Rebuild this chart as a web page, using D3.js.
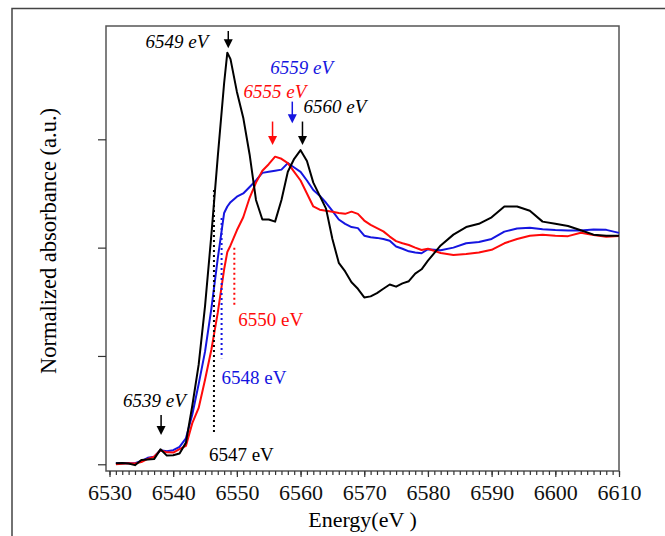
<!DOCTYPE html>
<html>
<head>
<meta charset="utf-8">
<script src="https://cdn.jsdelivr.net/npm/d3@7"></script>
<style>
  body { margin: 0; background: #fff; }
  text { font-family: "Liberation Serif", "Times New Roman", serif; }
</style>
</head>
<body>
<svg width="665" height="536"></svg>
<script>
// energy grid (eV)
var energy = [6531, 6532, 6533, 6534, 6535, 6536, 6537, 6538, 6539, 6540,
  6541, 6542, 6543, 6544, 6545, 6546, 6547, 6548, 6548.5, 6549, 6550,
  6551, 6552, 6553, 6554, 6555, 6556, 6557, 6558, 6559, 6560,
  6561, 6562, 6563, 6564, 6565, 6566, 6567, 6568, 6569, 6570,
  6571, 6572, 6573, 6574, 6575, 6576, 6577, 6578, 6579, 6580,
  6582, 6584, 6586, 6588, 6590, 6592, 6594, 6596, 6598, 6600,
  6602, 6604, 6606, 6608, 6610];

var blackVals = [0.005, 0.006, 0.004, -0.004, 0.02, 0.022, 0.024, 0.069, 0.04, 0.042,
  0.05, 0.10, 0.27, 0.46, 0.73, 1.06, 1.42, 1.76, 1.90, 1.87, 1.72,
  1.60, 1.43, 1.22, 1.13, 1.13, 1.12, 1.22, 1.35, 1.41, 1.45,
  1.40, 1.30, 1.24, 1.18, 1.04, 0.93, 0.89, 0.84, 0.81, 0.77,
  0.775, 0.79, 0.81, 0.83, 0.82, 0.835, 0.845, 0.88, 0.90, 0.94,
  1.01, 1.06, 1.095, 1.11, 1.14, 1.19, 1.19, 1.17, 1.12, 1.11,
  1.10, 1.08, 1.06, 1.055, 1.055];

var blueVals = [0.005, 0.006, 0.005, 0.005, 0.015, 0.03, 0.035, 0.065, 0.06, 0.065,
  0.08, 0.12, 0.23, 0.37, 0.52, 0.72, 0.95, 1.16, 1.19, 1.21, 1.235,
  1.25, 1.28, 1.31, 1.345, 1.35, 1.355, 1.36, 1.39, 1.37, 1.35,
  1.31, 1.266, 1.24, 1.207, 1.17, 1.13, 1.11, 1.095, 1.09, 1.055,
  1.048, 1.045, 1.04, 1.032, 1.005, 0.995, 0.983, 0.978, 0.974, 0.993,
  0.988, 1.00, 1.02, 1.026, 1.04, 1.074, 1.088, 1.092, 1.085, 1.081,
  1.079, 1.079, 1.084, 1.082, 1.068];

var redVals = [0.0, 0.003, 0.005, 0.004, 0.01, 0.025, 0.035, 0.065, 0.055, 0.054,
  0.07, 0.085, 0.19, 0.26, 0.39, 0.53, 0.70, 0.90, 0.98, 1.01, 1.08,
  1.14, 1.23, 1.30, 1.355, 1.385, 1.42, 1.41, 1.39, 1.35, 1.31,
  1.25, 1.19, 1.175, 1.17, 1.166, 1.16, 1.156, 1.166, 1.156, 1.125,
  1.105, 1.09, 1.075, 1.051, 1.03, 1.02, 1.012, 1.0, 0.989, 0.995,
  0.975, 0.966, 0.971, 0.978, 0.99, 1.02, 1.04, 1.055, 1.059, 1.055,
  1.053, 1.069, 1.058, 1.05, 1.054];

var xMajor = [6530, 6540, 6550, 6560, 6570, 6580, 6590, 6600, 6610];
var yTicks = [0, 0.5, 1, 1.5];

// peak / feature arrows: label, energy, tip value, top value
var arrowLabels = ["6539 eV", "6549 eV", "6555 eV", "6559 eV", "6560 eV"];
var arrowE = [6538.1, 6548.65, 6555.6, 6558.7, 6560.3];
var arrowTip = [0.135, 1.92, 1.474, 1.574, 1.474];
var arrowTop = [0.228, 2.0, 1.582, 1.674, 1.582];

// edge positions (dotted lines): label, energy, top value, bottom value
var edgeLabels = ["6547 eV", "6548 eV", "6550 eV"];
var edgeE = [6546.4, 6547.6, 6549.6];
var edgeTop = [1.266, 1.137, 1.0];
var edgeBottom = [0.135, 0.49, 0.735];

var svg = d3.select("svg"),
    margin = {top: 26, right: 46, bottom: 65, left: 106},
    width = +svg.attr("width") - margin.left - margin.right,
    height = +svg.attr("height") - margin.top - margin.bottom;

// outer frame
svg.append("path")
    .attr("d", "M12,540 L12,8.5 L670,8.5")
    .attr("fill", "none")
    .attr("stroke", "#444")
    .attr("stroke-width", 1.5);

var g = svg.append("g").attr("transform", "translate(" + margin.left + "," + margin.top + ")");

var x = d3.scaleLinear().domain([6529.45, 6610]).range([0, width]);
var y = d3.scaleLinear().domain([-0.031, 2.023]).range([height, 0]);

// plot box
g.append("rect")
    .attr("width", width).attr("height", height)
    .attr("fill", "none").attr("stroke", "#555").attr("stroke-width", 1.5);

// minor x ticks
g.append("g")
    .attr("transform", "translate(0," + height + ")")
    .call(d3.axisBottom(x).tickValues(d3.range(6530, 6611, 1)).tickSize(4).tickFormat(""))
    .call(function(a) { a.select(".domain").remove(); });

// major x ticks + labels
var xAxis = g.append("g")
    .attr("transform", "translate(0," + height + ")")
    .call(d3.axisBottom(x).tickValues(xMajor).tickSize(6).tickPadding(7).tickFormat(d3.format("d")));
xAxis.select(".domain").remove();
xAxis.selectAll("text").style("font-family", "'Liberation Serif', serif").style("font-size", "22px").attr("fill", "#111");
g.selectAll(".tick line").attr("stroke", "#333").attr("stroke-width", 1.2);

// y ticks, no labels
var yAxis = g.append("g")
    .call(d3.axisLeft(y).tickValues(yTicks).tickSize(8).tickFormat(""));
yAxis.select(".domain").remove();
yAxis.selectAll(".tick line").attr("stroke", "#333").attr("stroke-width", 1.2);

// axis titles
svg.append("text")
    .attr("x", margin.left + width / 2)
    .attr("y", 527)
    .attr("text-anchor", "middle")
    .style("font-size", "22px")
    .text("Energy(eV )");

svg.append("text")
    .attr("transform", "translate(56," + (margin.top + 215) + ") rotate(-90)")
    .attr("text-anchor", "middle")
    .style("font-size", "22.5px")
    .text("Normalized absorbance (a.u.)");

// spectra
var line = d3.line()
    .x(function(d) { return x(d[0]); })
    .y(function(d) { return y(d[1]); });

var series = [
  {vals: blueVals, color: "#1515e0"},
  {vals: redVals, color: "#ff0a0a"},
  {vals: blackVals, color: "#000"}
];
series.forEach(function(s) {
  g.append("path")
      .datum(energy.map(function(e, i) { return [e, s.vals[i]]; }))
      .attr("fill", "none")
      .attr("stroke", s.color)
      .attr("stroke-width", 2)
      .attr("stroke-linejoin", "round")
      .attr("d", line);
});

// dotted edge markers
var edgeColors = ["#000", "#1515e0", "#ff0a0a"];
var edgeLabelPos = [[-5, 26], [0, 26], [4, 21]]; // dx from line, dy below bottom end
edgeE.forEach(function(e, i) {
  g.append("line")
      .attr("x1", x(e)).attr("x2", x(e))
      .attr("y1", y(edgeTop[i])).attr("y2", y(edgeBottom[i]))
      .attr("stroke", edgeColors[i])
      .attr("stroke-width", 2)
      .attr("stroke-dasharray", "2,3");
  g.append("text")
      .attr("x", x(e) + edgeLabelPos[i][0])
      .attr("y", y(edgeBottom[i]) + edgeLabelPos[i][1])
      .attr("fill", edgeColors[i])
      .style("font-size", "19px")
      .text(edgeLabels[i]);
});

// arrows
var arrowColors = ["#000", "#000", "#ff0a0a", "#1515e0", "#000"];
// label offset from arrow top: dx, dy, anchor
var arrowLabelPos = [[-38, -8, "start"], [-20, 17, "end"], [-29, -24, "start"], [-22, -28, "start"], [1, -9, "start"]];
arrowE.forEach(function(e, i) {
  var ax = x(e), ty = y(arrowTip[i]), topY = y(arrowTop[i]);
  g.append("line")
      .attr("x1", ax).attr("x2", ax)
      .attr("y1", topY).attr("y2", ty - 6)
      .attr("stroke", arrowColors[i]).attr("stroke-width", 1.5);
  g.append("path")
      .attr("d", "M" + (ax - 4.5) + "," + (ty - 9) + " L" + (ax + 4.5) + "," + (ty - 9) + " L" + ax + "," + ty + " Z")
      .attr("fill", arrowColors[i]);
  g.append("text")
      .attr("x", ax + arrowLabelPos[i][0])
      .attr("y", topY + arrowLabelPos[i][1])
      .attr("text-anchor", arrowLabelPos[i][2])
      .attr("fill", arrowColors[i])
      .style("font-size", "19px")
      .style("font-style", "italic")
      .text(arrowLabels[i]);
});
</script>
</body>
</html>
